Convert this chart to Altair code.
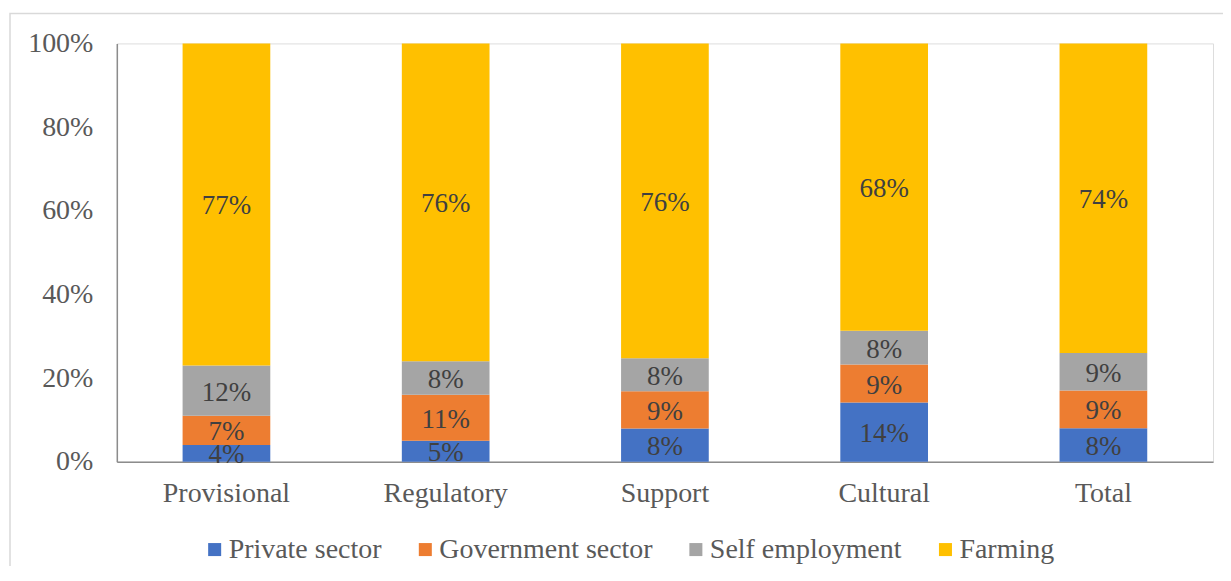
import altair as alt
import pandas as pd

categories = ["Provisional", "Regulatory", "Support", "Cultural", "Total"]
series = ["Private sector", "Government sector", "Self employment", "Farming"]
private_sector = [4, 5, 8, 14, 8]
government_sector = [7, 11, 9, 9, 9]
self_employment = [12, 8, 8, 8, 9]
farming = [77, 76, 76, 68, 74]
colors = ["#4472C4", "#ED7D31", "#A5A5A5", "#FFC000"]

rows = []
for si, (name, vals) in enumerate(zip(series, [private_sector, government_sector, self_employment, farming])):
    for c, v in zip(categories, vals):
        rows.append({"category": c, "series": name, "order": si, "value": v})
df = pd.DataFrame(rows)

FONT = "Liberation Serif"
TXT = "#595959"

base = alt.Chart(df).transform_stack(
    stack="value", groupby=["category"], as_=["y0", "y1"], offset="normalize",
    sort=[alt.SortField("order", order="ascending")]
).transform_calculate(
    mid="(datum.y0 + datum.y1) / 2",
    label="datum.value + '%'"
)

x_enc = alt.X("category:N", sort=categories, title=None,
              scale=alt.Scale(paddingInner=0.6, paddingOuter=0.3),
              axis=alt.Axis(labelAngle=0, labelFont=FONT, labelFontSize=28, labelColor=TXT,
                            labelPadding=18, ticks=False, domainColor="#8C8C8C", domainWidth=1.5))

bars = base.mark_bar().encode(
    x=x_enc,
    y=alt.Y("y0:Q", title=None, scale=alt.Scale(domain=[0, 1]),
            axis=alt.Axis(format=".0%", values=[0, 0.2, 0.4, 0.6, 0.8, 1.0], grid=False, ticks=False,
                          labelFont=FONT, labelFontSize=28, labelColor=TXT, labelPadding=24,
                          domainColor="#8C8C8C", domainWidth=1.5)),
    y2="y1:Q",
    color=alt.Color("series:N", sort=series, scale=alt.Scale(domain=series, range=colors),
                    legend=alt.Legend(title=None, orient="none", direction="horizontal",
                                      legendX=84, legendY=493, symbolType="square", symbolSize=170,
                                      symbolStrokeWidth=0, labelFont=FONT, labelFontSize=28,
                                      labelColor=TXT, labelOffset=0, columnPadding=29, labelLimit=0)),
    order=alt.Order("order:Q")
)

labels = base.mark_text(font=FONT, fontSize=27, color="#404040", baseline="middle", dy=2).encode(
    x=alt.X("category:N", sort=categories),
    y=alt.Y("mid:Q"),
    text="label:N"
)

border = alt.Chart(pd.DataFrame({"a": [0]})).mark_rect(
    fill=None, stroke="#D9D9D9", strokeWidth=1.5, clip=False
).encode(
    x=alt.value(-107), x2=alt.value(1140), y=alt.value(-30), y2=alt.value(580)
)

chart = alt.layer(border, bars, labels).properties(
    width=1098, height=419,
    autosize=alt.AutoSizeParams(type="none"),
    padding={"left": 109, "top": 35, "right": 10, "bottom": 104}
).configure_view(stroke=None).configure(background="white")

chart.save("out.html", embed_options={"renderer": "svg", "actions": False})
